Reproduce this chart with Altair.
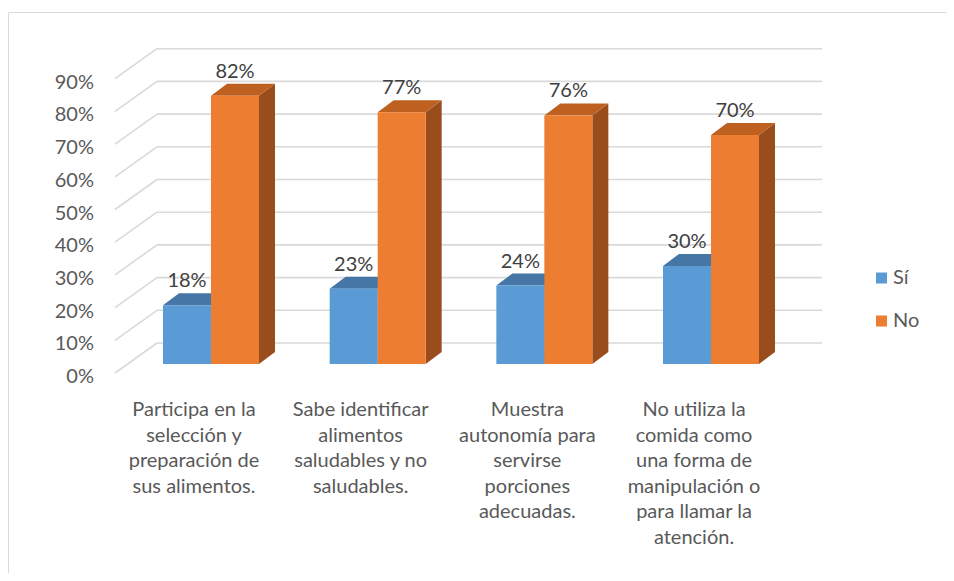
import altair as alt
import pandas as pd

# ---------------- data ----------------
categories = [
    "Participa en la\nselección y\npreparación de\nsus alimentos.",
    "Sabe identificar\nalimentos\nsaludables y no\nsaludables.",
    "Muestra\nautonomía para\nservirse\nporciones\nadecuadas.",
    "No utiliza la\ncomida como\nuna forma de\nmanipulación o\npara llamar la\natención.",
]
series = ["Sí", "No"]
si_values = [0.18, 0.23, 0.24, 0.30]
no_values = [0.82, 0.77, 0.76, 0.70]
tick_values = [0.0, 0.1, 0.2, 0.3, 0.4, 0.5, 0.6, 0.7, 0.8, 0.9]
tick_labels = ["0%", "10%", "20%", "30%", "40%", "50%", "60%", "70%", "80%", "90%"]

# ---------------- style ----------------
front_colors = ["#5B9BD5", "#ED7D31"]
top_colors = ["#4576A5", "#BE6020"]
side_colors = ["#3C6791", "#9A4D1C"]
grid_color = "#D9D9D9"
text_color = "#595959"
label_color = "#404040"
FONT = "Lato"
FS = 20

# ---------------- layout (page pixels -> scale units) ----------------
W, H = 938, 565
PAGE = 8
GROUP0_PX = 211.0
STEP_PX = 166.67
ZERO_PX = 373.0
UNIT_PX = 327.0


def ux(px):
    return (px - GROUP0_PX) / STEP_PX


def vy(py):
    return (ZERO_PX - py) / UNIT_PX


BAR_W = 48 / STEP_PX
DEPTH_X = 16 / STEP_PX
DEPTH_Y = 12 / UNIT_PX
BASE = vy(364)
WALL_FRONT_X = ux(115)
WALL_BACK_X = ux(157)
WALL_RIGHT_X = ux(822)
WALL_DY = 30 / UNIT_PX

xs = alt.Scale(domain=[ux(PAGE), ux(PAGE + W)], nice=False, zero=False)
ys = alt.Scale(domain=[vy(PAGE + H), vy(PAGE)], nice=False, zero=False)


def X(f):
    return alt.X(f, type="quantitative", scale=xs, axis=None)


def Y(f):
    return alt.Y(f, type="quantitative", scale=ys, axis=None)


# ---------------- build geometry tables from the data ----------------
front_rows, side_rows, top_rows, lab_rows = [], [], [], []
for k, (name, vals) in enumerate(zip(series, [si_values, no_values])):
    for i, v in enumerate(vals):
        xl = i - BAR_W if k == 0 else i
        xr = xl + BAR_W
        key = f"{name}-{i}"
        front_rows.append(dict(series=name, xl=xl, xr=xr, y0=BASE, y1=BASE + v))
        side_rows.append(dict(series=name, key=key, x=xr, lo=BASE, hi=BASE + v))
        side_rows.append(dict(series=name, key=key, x=xr + DEPTH_X, lo=BASE + DEPTH_Y, hi=BASE + v + DEPTH_Y))
        top_rows.append(dict(series=name, key=key, y=BASE + v, xl=xl, xr=xr))
        top_rows.append(dict(series=name, key=key, y=BASE + v + DEPTH_Y, xl=xl + DEPTH_X, xr=xr + DEPTH_X))
        lab_rows.append(dict(series=name, x=(xl + xr) / 2, y=BASE + v + DEPTH_Y, text=f"{round(v * 100)}%"))

front_df = pd.DataFrame(front_rows)
side_df = pd.DataFrame(side_rows)
top_df = pd.DataFrame(top_rows)
lab_df = pd.DataFrame(lab_rows)

grid_df = pd.DataFrame({
    "t": tick_values,
    "label": tick_labels,
    "xf": [WALL_FRONT_X] * len(tick_values),
    "xb": [WALL_BACK_X] * len(tick_values),
    "xr": [WALL_RIGHT_X] * len(tick_values),
    "tb": [t + WALL_DY for t in tick_values],
    "xlab": [ux(94)] * len(tick_values),
})

cat_df = pd.DataFrame({
    "cat": categories,
    "x": [i - 17 / STEP_PX for i in range(len(categories))],
    "y": [vy(416)] * len(categories),
})

legend_df = pd.DataFrame({
    "series": series,
    "xs": [ux(881.5)] * 2,
    "xt": [ux(893)] * 2,
    "y": [vy(278), vy(321)],
})

border_df = pd.DataFrame({
    "x": [ux(PAGE + 0.5), ux(PAGE + 0.5)],
    "x2": [ux(PAGE + W + 10), ux(PAGE + 0.5)],
    "y": [vy(12.5), vy(12.5)],
    "y2": [vy(12.5), vy(PAGE + H + 10)],
})

color_scale = alt.Scale(domain=series, range=front_colors)

# ---------------- layers ----------------
border = alt.Chart(border_df).mark_rule(color=grid_color, strokeWidth=1).encode(
    x=X("x"), x2="x2", y=Y("y"), y2="y2")

diag = alt.Chart(grid_df).mark_rule(color=grid_color, strokeWidth=1.6).encode(
    x=X("xf"), x2="xb", y=Y("t"), y2="tb")
back = alt.Chart(grid_df).mark_rule(color=grid_color, strokeWidth=1.6).encode(
    x=X("xb"), x2="xr", y=Y("tb"))
ylabels = alt.Chart(grid_df).mark_text(
    align="right", baseline="middle", dy=4, font=FONT, fontSize=FS, color=text_color
).encode(x=X("xlab"), y=Y("t"), text="label:N")

bar_layers = []
for k, name in enumerate(series):
    side = alt.Chart(side_df[side_df.series == name]).mark_area(
        orient="vertical", color=side_colors[k]
    ).encode(x=X("x"), y=Y("lo"), y2="hi", detail="key:N")
    top = alt.Chart(top_df[top_df.series == name]).mark_area(
        orient="horizontal", color=top_colors[k]
    ).encode(y=Y("y"), x=X("xl"), x2="xr", detail="key:N")
    front = alt.Chart(front_df[front_df.series == name]).mark_rect().encode(
        x=X("xl"), x2="xr", y=Y("y0"), y2="y1",
        color=alt.Color("series:N", scale=color_scale, legend=None))
    bar_layers += [side, top, front]

values_txt = alt.Chart(lab_df).mark_text(
    align="center", baseline="alphabetic", dy=-6, font=FONT, fontSize=FS, color=label_color
).encode(x=X("x"), y=Y("y"), text="text:N")

cat_txt = alt.Chart(cat_df).mark_text(
    align="center", baseline="alphabetic", lineBreak="\n", lineHeight=25.6,
    font=FONT, fontSize=FS, color=text_color
).encode(x=X("x"), y=Y("y"), text="cat:N")

leg_sq = alt.Chart(legend_df).mark_square(size=121, opacity=1).encode(
    x=X("xs"), y=Y("y"), color=alt.Color("series:N", scale=color_scale, legend=None))
leg_txt = alt.Chart(legend_df).mark_text(
    align="left", baseline="middle", font=FONT, fontSize=FS, color=text_color
).encode(x=X("xt"), y=Y("y"), text="series:N")

chart = alt.layer(
    border, diag, back, ylabels, *bar_layers, values_txt, cat_txt, leg_sq, leg_txt
).properties(
    width=W, height=H,
    autosize=alt.AutoSizeParams(type="none"),
    padding=0,
    background="white",
).configure_view(stroke=None)

chart.save("out.html", embed_options={"renderer": "svg", "actions": False})
